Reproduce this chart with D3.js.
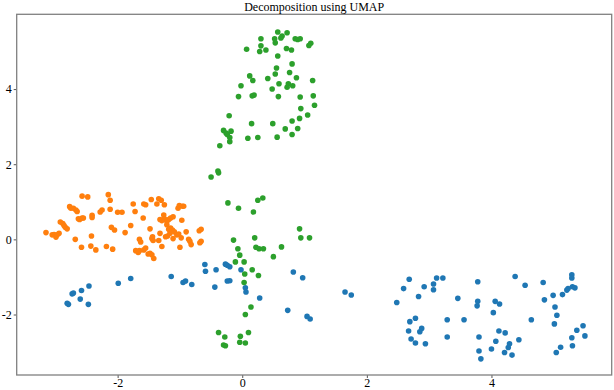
<!DOCTYPE html>
<html>
<head>
<meta charset="utf-8">
<script src="https://cdn.jsdelivr.net/npm/d3@7"></script>
<style>
  body { margin: 0; background: #fff; }
  text { font-family: "Liberation Serif", "DejaVu Serif", serif; }
</style>
</head>
<body>
<div id="chart"></div>
<script>
// set the dimensions of the figure
var width = 614,
    height = 390

var margin = { top: 14.3, right: 2.3, bottom: 14, left: 16.7 }

var xTicks = [-2, 0, 2, 4]
var yTicks = [-2, 0, 2, 4]

// cluster 0 (blue)
var blueX = [-2.81, -2.79, -2.73, -2.71, -2.60, -2.58, -2.47, -2.46, -1.99, -1.79,
  -1.14, -0.95, -0.91, -0.81, -0.60, -0.59, -0.42, -0.44, -0.27, -0.24, -0.20, -0.24, -0.20,
  -0.02, 0.05, 0.06, 0.28, 0.82, 0.97, 0.73, 1.04, 1.09, 1.65, 1.75,
  2.48, 2.59, 2.68, 2.83, 2.92, 3.07, 3.07, 3.12, 3.22, 2.78, 2.69, 2.67, 2.71, 2.78,
  2.85, 2.88, 2.94, 3.29, 3.29, 3.46, 3.56, 3.78, 3.78, 3.77, 4.06, 4.13, 4.03, 3.80,
  3.80, 3.83, 4.00, 4.07, 4.12, 4.22, 4.29, 4.27, 4.21, 4.33, 4.44, 4.38, 4.54, 4.64,
  4.83, 4.85, 4.99, 5.02, 5.05, 5.01, 5.14, 5.21, 5.23, 5.29, 5.29, 5.30, 5.34, 5.37,
  5.47, 5.50, 5.29, 5.30, 5.11, 5.04]
var blueY = [-1.70, -1.73, -1.45, -1.43, -1.59, -1.36, -1.73, -1.24, -1.17, -1.04,
  -0.99, -1.15, -1.11, -1.20, -0.67, -0.85, -0.81, -1.27, -0.66, -0.69, -0.73, -1.11, -1.10,
  -0.81, -1.29, -1.40, -1.56, -0.87, -1.02, -1.89, -2.05, -2.12, -1.40, -1.48,
  -1.68, -1.31, -1.06, -1.52, -1.26, -1.19, -1.34, -1.03, -1.03, -2.10, -2.19, -2.44, -2.65, -2.76,
  -2.46, -2.37, -2.78, -2.14, -2.60, -1.57, -2.14, -1.13, -1.65, -1.77, -1.65, -1.72, -1.95, -2.60,
  -2.97, -3.18, -2.92, -2.71, -2.44, -2.49, -2.78, -2.88, -3.01, -3.08, -2.67, -0.99, -1.22, -2.14,
  -1.15, -1.61, -1.49, -1.80, -2.02, -2.25, -1.47, -1.35, -1.31, -0.94, -1.03, -1.26, -1.29, -2.42,
  -2.30, -2.57, -2.62, -2.83, -2.87, -3.01]

// cluster 1 (orange)
var orangeX = [-3.15, -3.05, -3.02, -2.99, -2.97, -2.94, -2.92, -2.88, -2.86, -2.84, -2.81,
  -2.77, -2.75, -2.71, -2.67, -2.65, -2.63, -2.61, -2.57, -2.55, -2.57, -2.48, -2.68, -2.58,
  -2.42, -2.43, -2.35, -2.41, -2.41, -2.28, -2.25, -2.18, -2.08, -2.15, -2.12, -2.12, -2.10,
  -2.05, -2.00, -1.93, -1.88, -1.79, -1.75, -1.72, -1.65, -1.63, -1.71, -1.67, -1.65, -1.58,
  -1.55, -1.51, -1.48, -1.45, -1.42, -1.59, -1.58, -1.55, -1.48, -1.45, -1.43, -1.44, -1.46,
  -1.37, -1.34, -1.30, -1.25, -1.34, -1.29, -1.32, -1.32, -1.29, -1.26, -1.25, -1.21, -1.18,
  -1.15, -1.11, -1.23, -1.20, -1.16, -1.15, -1.12, -1.09, -1.11, -1.05, -1.02, -0.98, -1.00,
  -1.21, -1.18, -1.03, -1.01, -0.96, -0.94, -0.97, -0.90, -0.86, -0.84, -0.82, -0.69, -0.66,
  -0.68, -0.66]
var orangeY = [0.18, 0.12, 0.13, 0.06, 0.12, 0.16, 0.46, 0.42, 0.37, 0.32, 0.28,
  0.87, 0.83, 0.83, 0.78, 0.74, 0.55, 0.53, 0.57, 0.57, 1.15, 1.13, 0.00, -0.21,
  0.09, -0.18, -0.28, 0.64, 0.58, 0.73, 0.78, -0.19, -0.26, 1.19, 1.04, 0.80, 0.32,
  0.25, 0.72, 0.72, 0.18, 0.37, 0.94, 0.74, 0.00, -0.07, -0.30, -0.35, -0.30, -0.28,
  -0.23, -0.39, -0.37, -0.41, -0.51, 0.57, 0.94, 0.92, 0.28, 0.02, -0.03, 0.07, 1.06,
  0.94, 1.08, 1.04, 0.92, -0.03, -0.19, 0.16, 0.53, 0.50, 0.65, 0.55, 0.48, 0.53,
  0.57, 0.60, 0.07, 0.09, 0.16, 0.30, 0.25, 0.20, 0.02, 0.12, 0.14, 0.04, -0.21,
  0.39, 0.27, 0.83, 0.90, 0.88, 0.88, 0.51, 0.20, 0.00, -0.05, -0.14, 0.23, 0.27,
  -0.09, -0.05]

// cluster 2 (green)
var greenX = [-0.23, -0.06, 0.18, 0.25, 0.33, 0.92, 0.94, 1.08, -0.14, 0.20, -0.07,
  0.22, 0.27, 0.34, 0.63, -0.04, 0.50, -0.11, 0.03, 0.16, 0.26, 0.04, 0.03, 0.14, 0.05,
  -0.38, -0.28, -0.03, 0.10, -0.30, -0.27, -0.04, 0.05,
  0.57, 0.72, 0.30, 0.52, 0.53, 0.64, 0.62, 0.85, 0.89, 0.93, 1.07, 1.10, 0.07, 0.30,
  0.28, 0.38, 0.71, 0.79, 0.57, 0.55, 0.80, 0.53, 0.76, 0.12, 0.17, 0.41, 0.87, 1.13,
  -0.02, 0.59, 0.48, 0.74, 0.72, 0.81, -0.06, 0.16, 0.19, 0.58, 0.93, 1.14, 0.94, 1.16,
  -0.21, 1.05, 0.92, 0.15, 0.49, 0.80, 0.69, 0.89, -0.30, -0.26, -0.18, -0.24, -0.20,
  -0.20, 0.09, 0.25, 0.56, 0.80, -0.36, -0.39, -0.38, -0.50]
var greenY = [0.97, 0.83, 0.73, 1.04, 1.10, 0.28, 0.04, 0.04, -0.02, 0.04, -0.25,
  -0.21, -0.25, -0.25, -0.20, -0.42, -0.46, -0.60, -0.60, -0.81, -0.96, -0.92, -1.15, -1.80, -2.00,
  -2.48, -2.60, -2.58, -2.48, -2.81, -2.83, -2.74, -2.76,
  5.52, 5.50, 5.34, 5.34, 5.23, 5.41, 5.36, 5.34, 5.32, 5.34, 5.16, 5.22, 5.06, 5.15,
  5.00, 5.04, 5.08, 5.04, 4.88, 4.56, 4.67, 4.40, 4.44, 4.35, 4.23, 4.28, 4.30, 4.23,
  4.09, 4.14, 4.00, 4.14, 4.05, 4.09, 3.80, 3.82, 3.84, 3.80, 3.79, 3.82, 3.48, 3.57,
  3.29, 3.31, 3.22, 3.08, 3.08, 3.15, 2.94, 2.95, 2.90, 2.83, 2.88, 2.79, 2.71,
  2.60, 2.69, 2.71, 2.72, 2.79, 2.49, 1.82, 1.77, 1.66]

var clusters = [
  { name: "0", color: "#1f77b4", xs: blueX, ys: blueY },
  { name: "1", color: "#ff7f0e", xs: orangeX, ys: orangeY },
  { name: "2", color: "#2ca02c", xs: greenX, ys: greenY }
]

var x = d3.scaleLinear()
  .domain([-3.62, 5.93])
  .range([margin.left, width - margin.right])

var y = d3.scaleLinear()
  .domain([-3.61, 5.99])
  .range([375, margin.top])

var svg = d3.select("#chart")
  .append("svg")
  .attr("width", width)
  .attr("height", height)

// points
clusters.forEach(function(c) {
  var pts = c.xs.map(function(v, i) { return [v, c.ys[i]] })
  svg.append("g")
    .selectAll("circle")
    .data(pts)
    .enter()
    .append("circle")
    .attr("cx", function(d) { return x(d[0]) })
    .attr("cy", function(d) { return y(d[1]) })
    .attr("r", 2.8)
    .attr("fill", c.color)
})

// plain hyphen for negatives, like the reference
var fmt = function(d) { return String(d) }

// axes
var xAxis = svg.append("g")
  .attr("transform", "translate(0," + y.range()[0] + ")")
  .call(d3.axisBottom(x).tickValues(xTicks).tickSize(3).tickPadding(2).tickFormat(fmt))
var yAxis = svg.append("g")
  .attr("transform", "translate(" + margin.left + ",0)")
  .call(d3.axisLeft(y).tickValues(yTicks).tickSize(3).tickPadding(2).tickFormat(fmt))

;[xAxis, yAxis].forEach(function(a) {
  a.select(".domain").remove()
  a.selectAll("line").attr("stroke", "#555")
  a.selectAll("text")
    .attr("fill", "#000")
    .style("font-size", "12px")
    .style("font-family", "'Liberation Serif', serif")
})
xAxis.selectAll("text").attr("dy", "0.62em")

// frame
svg.append("rect")
  .attr("x", x.range()[0])
  .attr("y", y.range()[1])
  .attr("width", x.range()[1] - x.range()[0])
  .attr("height", y.range()[0] - y.range()[1])
  .attr("fill", "none")
  .attr("stroke", "#808080")
  .attr("stroke-width", 1.3)

// title
svg.append("text")
  .attr("x", (x.range()[0] + x.range()[1]) / 2)
  .attr("y", 11)
  .attr("text-anchor", "middle")
  .style("font-size", "12px")
  .text("Decomposition using UMAP")
</script>
</body>
</html>
